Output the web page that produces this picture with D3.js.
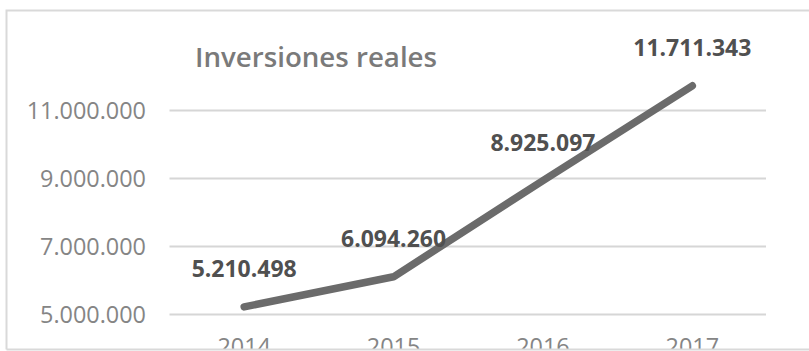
<!DOCTYPE html>
<html>
<head>
<meta charset="utf-8">
<script src="https://cdn.jsdelivr.net/npm/d3@7"></script>
<style>
  html, body { margin: 0; padding: 0; background: #fff; }
  svg { display: block; }
</style>
</head>
<body>
<script>
const categories = ["2014", "2015", "2016", "2017"];
const values = [5210498, 6094260, 8925097, 11711343];
const valueLabels = ["5.210.498", "6.094.260", "8.925.097", "11.711.343"];
const yTicks = [5000000, 7000000, 9000000, 11000000];
const yTickLabels = ["5.000.000", "7.000.000", "9.000.000", "11.000.000"];
const title = "Inversiones reales";

const W = 809, H = 351;
const svg = d3.select("body").append("svg").attr("width", W).attr("height", H);
svg.append("rect").attr("width", W).attr("height", H).attr("fill", "#fff");

const x = d3.scaleBand().domain(categories).range([169.5, 767]).padding(0);
const y = d3.scaleLinear().domain([5000000, 11000000]).range([314, 110]);

const font = "'Open Sans', 'Noto Sans', sans-serif";

function fit(sel, target) {
  sel.each(function() {
    const el = this;
    let fs = parseFloat(el.getAttribute("font-size"));
    for (let i = 0; i < 3; i++) {
      const w = el.getComputedTextLength();
      if (w > 0) { fs = fs * target / w; el.setAttribute("font-size", fs.toFixed(2)); }
    }
  });
}

// gridlines
svg.append("g").selectAll("line").data(yTicks).join("line")
  .attr("x1", 169.5).attr("x2", 766)
  .attr("y1", d => Math.round(y(d)) + 0.5).attr("y2", d => Math.round(y(d)) + 0.5)
  .attr("stroke", "#d6d6d6").attr("stroke-width", 2);

// y axis labels
const yAxis = d3.axisLeft(y).tickValues(yTicks).tickSize(0).tickPadding(0)
  .tickFormat((d, i) => yTickLabels[i]);
const gy = svg.append("g").attr("transform", "translate(146,0)").call(yAxis);
gy.select(".domain").remove();
gy.selectAll("text")
  .attr("font-family", font).attr("font-size", 22).attr("fill", "#858585")
  .attr("dy", "0.36em");
gy.selectAll("text").filter((d) => d === 5000000).call(fit, 106);
const ySize = gy.selectAll("text").filter((d) => d === 5000000).attr("font-size");
gy.selectAll("text").attr("font-size", ySize);

// x axis labels
const xAxis = d3.axisBottom(x).tickSize(0).tickPadding(0);
const gx = svg.append("g").attr("transform", "translate(0,338)").call(xAxis);
gx.select(".domain").remove();
gx.selectAll("text")
  .attr("font-family", font).attr("font-size", ySize).attr("fill", "#858585")
  .attr("dy", "0.72em");

// line
const line = d3.line().x((d, i) => x(categories[i]) + x.bandwidth() / 2).y(d => y(d));
svg.append("path").datum(values)
  .attr("d", line).attr("fill", "none")
  .attr("stroke", "#6b6b6b").attr("stroke-width", 7.5)
  .attr("stroke-linecap", "round").attr("stroke-linejoin", "round");

// data labels
const dl = svg.append("g").selectAll("text").data(values).join("text")
  .attr("x", (d, i) => x(categories[i]) + x.bandwidth() / 2)
  .attr("y", d => y(d) - 30)
  .attr("text-anchor", "middle")
  .attr("font-family", font).attr("font-weight", 700).attr("font-size", 22)
  .attr("fill", "#505050")
  .text((d, i) => valueLabels[i]);
dl.filter((d, i) => i === 0).call(fit, 105);
dl.attr("font-size", dl.filter((d, i) => i === 0).attr("font-size"));

// title
svg.append("text").attr("x", 195).attr("y", 67)
  .attr("font-family", font).attr("font-weight", 600).attr("font-size", 26)
  .attr("fill", "#7a7a7a").text(title).call(fit, 242);

// bottom clip & border
svg.append("rect").attr("x", 0).attr("y", 349).attr("width", W).attr("height", 2).attr("fill", "#fff");
svg.append("path")
  .attr("d", "M6.5,349.5 L6.5,10.5 L809,10.5 M6.5,349.5 L809,349.5")
  .attr("fill", "none").attr("stroke", "#d9d9d9").attr("stroke-width", 2);
</script>
</body>
</html>
